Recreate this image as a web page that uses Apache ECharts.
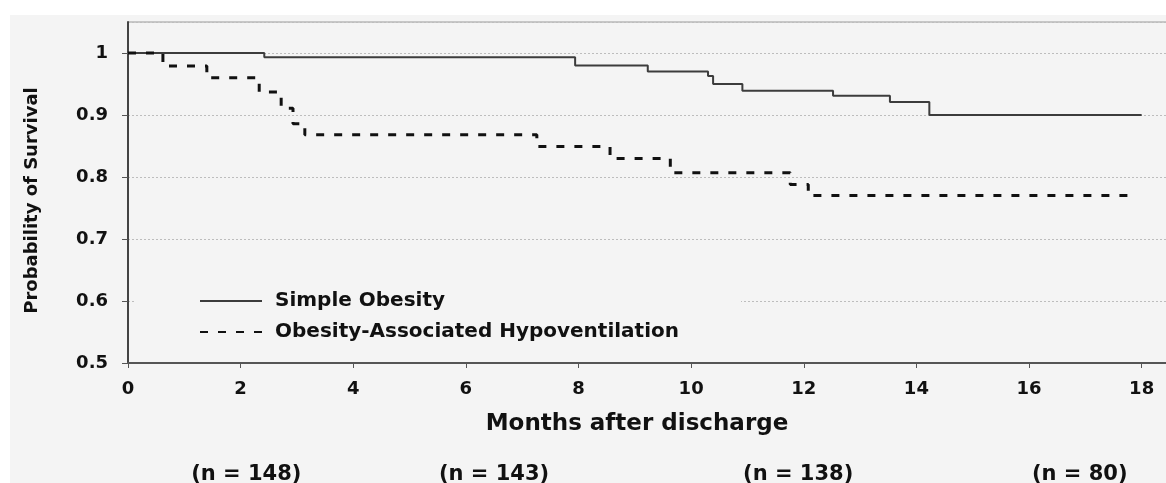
<!DOCTYPE html>
<html>
<head>
<meta charset="utf-8">
<script src="https://cdn.jsdelivr.net/npm/echarts@6/dist/echarts.min.js"></script>
<style>
html,body{margin:0;padding:0;background:#ffffff;width:1166px;height:483px;overflow:hidden;}
#chart{position:absolute;left:10px;top:15px;width:1156px;height:468px;background:#f4f4f4;}
</style>
</head>
<body>
<div id="chart"></div>
<script>
// Kaplan-Meier step data (months, survival probability)
const simpleName = 'Simple Obesity';
const simpleX = [0, 2.42, 7.94, 9.23, 10.30, 10.39, 10.91, 12.52, 13.53, 14.23, 18.0];
const simpleY = [1.0, 0.993, 0.980, 0.970, 0.963, 0.950, 0.939, 0.931, 0.921, 0.900, 0.900];

const hypoName = 'Obesity-Associated Hypoventilation';
const hypoX = [0, 0.62, 1.40, 2.33, 2.72, 2.93, 3.14, 7.26, 8.56, 9.63, 11.76, 12.08, 17.9];
const hypoY = [1.0, 0.979, 0.960, 0.937, 0.911, 0.886, 0.868, 0.849, 0.830, 0.807, 0.788, 0.770, 0.770];

// Numbers at risk under the x axis
const nPositions = [2.1, 6.5, 11.9, 16.9];
const nLabels = ['(n = 148)', '(n = 143)', '(n = 138)', '(n = 80)'];

const xTickStep = 2;
const yTickStep = 0.1;

const FONT = 'DejaVu Sans';
const nMap = {};
nPositions.forEach((p, i) => { nMap[p.toFixed(1)] = nLabels[i]; });

function pairs(xs, ys) { return xs.map((x, i) => [x, ys[i]]); }

const X_MAX = 18.61;

const chart = echarts.init(document.getElementById('chart'), null, {renderer: 'canvas'});
chart.setOption({
  backgroundColor: '#f4f4f4',
  animation: false,
  grid: {
    left: 118, top: 7, right: -10, bottom: 120,
    outerBoundsMode: 'none', containLabel: false,
    show: true, borderColor: '#9a9a9a', borderWidth: 1, backgroundColor: 'transparent'
  },
  legend: {
    orient: 'vertical',
    left: 125, top: 271,
    padding: [5, 62, 5, 64],
    backgroundColor: '#f4f4f4',
    itemWidth: 62, itemHeight: 14, itemGap: 11,
    itemStyle: {opacity: 0},
    textStyle: {fontFamily: FONT, fontSize: 20, fontWeight: 'bold', color: '#111', padding: [0, 0, 0, 8]},
    data: [simpleName, hypoName]
  },
  xAxis: [{
    type: 'value', min: 0, max: X_MAX, interval: xTickStep,
    name: 'Months after discharge', nameLocation: 'middle', nameGap: 50,
    nameTextStyle: {fontFamily: FONT, fontSize: 23, fontWeight: 'bold', color: '#111', padding: [0, 30, 0, 0]},
    axisLine: {show: true, lineStyle: {color: '#555', width: 2}},
    axisTick: {show: true, length: 5, lineStyle: {color: '#555', width: 1}},
    splitLine: {show: false},
    axisLabel: {
      margin: 17, fontFamily: FONT, fontSize: 18, fontWeight: 'bold', color: '#111',
      formatter: v => (Math.abs(v - Math.round(v)) < 1e-6 && Math.round(v) % 2 === 0 && v <= 18) ? String(Math.round(v)) : ''
    }
  }, {
    type: 'value', min: 0, max: X_MAX, interval: 0.1, position: 'bottom',
    axisLine: {show: false}, axisTick: {show: false}, splitLine: {show: false},
    axisLabel: {
      margin: 101, fontFamily: FONT, fontSize: 21, fontWeight: 'bold', color: '#111',
      formatter: v => nMap[Number(v).toFixed(1)] || ''
    }
  }],
  yAxis: {
    type: 'value', min: 0.5, max: 1.05, interval: yTickStep,
    name: 'Probability of Survival', nameLocation: 'middle', nameGap: 87, nameRotate: 90,
    nameTextStyle: {fontFamily: FONT, fontSize: 18, fontWeight: 'bold', color: '#111', padding: [0, 16, 0, 0]},
    axisLine: {show: true, lineStyle: {color: '#444', width: 2}},
    axisTick: {show: true, length: 6, lineStyle: {color: '#555', width: 1}},
    splitLine: {show: true, lineStyle: {color: '#bdbdbd', width: 1, type: [2, 2]}},
    axisLabel: {
      margin: 20, fontFamily: FONT, fontSize: 18, fontWeight: 'bold', color: '#111',
      showMaxLabel: false,
      formatter: v => (v > 1.001 ? '' : String(Math.round(v * 10) / 10))
    }
  },
  series: [{
    name: simpleName, type: 'line', step: 'end', xAxisIndex: 0,
    symbol: 'none', showSymbol: false,
    lineStyle: {color: '#3c3c3c', width: 2, type: 'solid'},
    itemStyle: {color: '#3c3c3c'},
    data: pairs(simpleX, simpleY)
  }, {
    name: hypoName, type: 'line', step: 'end', xAxisIndex: 0,
    symbol: 'none', showSymbol: false,
    lineStyle: {color: '#111', width: 3, type: [8, 10]},
    itemStyle: {color: '#111'},
    data: pairs(hypoX, hypoY)
  }]
});
</script>
</body>
</html>
